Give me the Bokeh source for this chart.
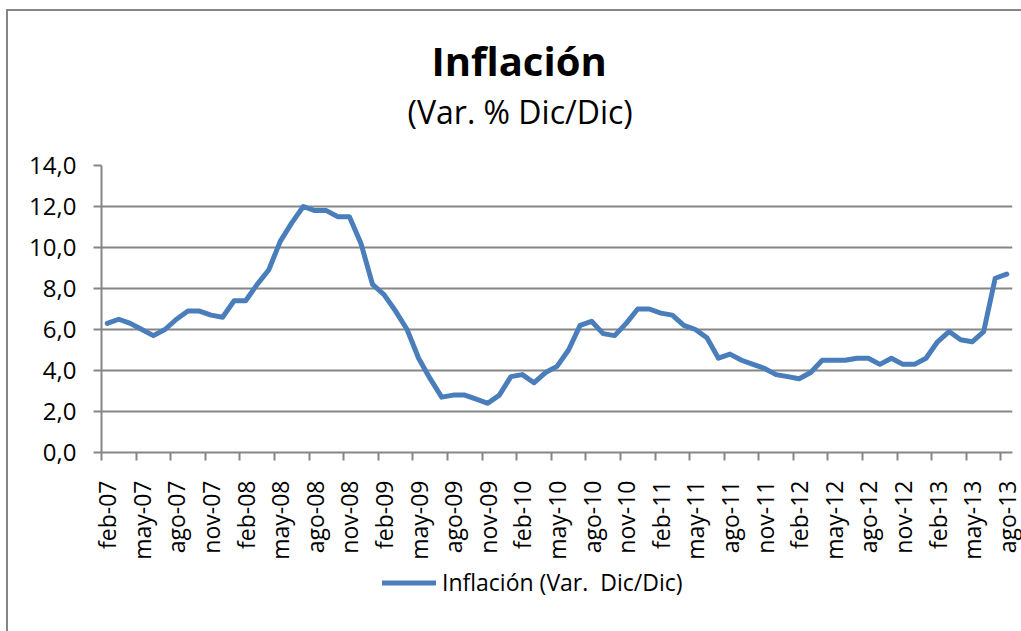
import math
from bokeh.plotting import figure
from bokeh.models import (Range1d, FixedTicker, CustomJSTickFormatter, Title,
                          Legend, LegendItem, ColumnDataSource, InlineStyleSheet,
                          GlobalInlineStyleSheet)
from bokeh.embed import file_html
from bokeh.resources import INLINE

# ---- data -------------------------------------------------------------
month_names = ["ene", "feb", "mar", "abr", "may", "jun",
               "jul", "ago", "sep", "oct", "nov", "dic"]
start_year = 2007
start_month = 2          # feb-07
inflacion = [6.3, 6.5, 6.3, 6.0, 5.7, 6.0, 6.5, 6.9, 6.9, 6.7, 6.6,          # feb-07 .. dic-07
             7.4, 7.4, 8.2, 8.9, 10.3, 11.2, 12.0, 11.8, 11.8, 11.5, 11.5, 10.2,  # 2008
             8.2, 7.7, 6.9, 6.0, 4.6, 3.6, 2.7, 2.8, 2.8, 2.6, 2.4, 2.8,   # 2009
             3.7, 3.8, 3.4, 3.9, 4.2, 5.0, 6.2, 6.4, 5.8, 5.7, 6.3, 7.0,   # 2010
             7.0, 6.8, 6.7, 6.2, 6.0, 5.6, 4.6, 4.8, 4.5, 4.3, 4.1, 3.8,   # 2011
             3.7, 3.6, 3.9, 4.5, 4.5, 4.5, 4.6, 4.6, 4.3, 4.6, 4.3, 4.3,   # 2012
             4.6, 5.4, 5.9, 5.5, 5.4, 5.9, 8.5, 8.7]                       # 2013 .. ago-13
y_ticks = [0, 2, 4, 6, 8, 10, 12, 14]
label_every = 3

labels = []
for k in range(len(inflacion)):
    m = start_month - 1 + k
    labels.append(f"{month_names[m % 12]}-{(start_year + m // 12) % 100:02d}")
idx = list(range(len(inflacion)))

src = ColumnDataSource(dict(x=idx, y=inflacion, lab=labels))

# ---- figure -----------------------------------------------------------
GRAY = "#868686"
BLUE = "#4A7EBB"
FONT = "Open Sans"

border_css = InlineStyleSheet(css=":host { margin-left: 6px; margin-top: 9px; "
                                  "border-left: 2px solid #868686; border-top: 2px solid #868686; }")
page_css = GlobalInlineStyleSheet(css="html, body { overflow: hidden; }")

p = figure(frame_width=911, frame_height=287, output_backend="svg", toolbar_location=None,
           x_range=Range1d(-0.5, len(inflacion) - 0.5), y_range=Range1d(0, 14),
           min_border_left=93, min_border_right=9, min_border_top=154,
           min_border_bottom=179, stylesheets=[border_css, page_css])
p.background_fill_color = "white"
p.border_fill_color = "white"
p.outline_line_color = None

r = p.line("x", "y", source=src, line_color=BLUE, line_width=5,
           line_join="round", line_cap="round")

# titles (spacer first, nearest the plot area, then subtitle, then main title)
spacer = Title(text=" ", text_font_size="2px", standoff=29)
p.add_layout(spacer, "above")
sub = Title(text="(Var. % Dic/Dic)", text_font=FONT, text_font_style="normal",
            text_font_size="32px", align="left", offset=306, standoff=0,
            text_color="black")
p.add_layout(sub, "above")
p.title.text = "Inflación"
p.title.text_font = FONT
p.title.text_font_style = "bold"
p.title.text_font_size = "40px"
p.title.align = "left"
p.title.offset = 330
p.title.standoff = 0
p.title.text_color = "black"

# y axis
p.yaxis.ticker = FixedTicker(ticks=y_ticks)
p.yaxis.formatter = CustomJSTickFormatter(code="return tick.toFixed(1).replace('.', ',');")
p.yaxis.axis_line_color = GRAY
p.yaxis.axis_line_width = 2
p.yaxis.major_tick_line_color = GRAY
p.yaxis.major_tick_line_width = 2
p.yaxis.major_tick_in = 0
p.yaxis.major_tick_out = 8
p.yaxis.minor_tick_line_color = None
p.yaxis.major_label_standoff = 17
p.yaxis.major_label_text_font = FONT
p.yaxis.major_label_text_font_size = "24px"
p.yaxis.major_label_text_color = "black"

# x axis: labels at category centres, tick marks at category boundaries
lab_pos = list(range(0, len(inflacion), label_every))
tick_pos = [i - 0.5 for i in lab_pos]
p.xaxis.ticker = FixedTicker(ticks=lab_pos, minor_ticks=tick_pos)
p.xaxis.major_label_overrides = {i: labels[i] for i in lab_pos}
p.xaxis.major_label_orientation = math.pi / 2
p.xaxis.axis_line_color = GRAY
p.xaxis.axis_line_width = 2
p.xaxis.major_tick_line_color = None
p.xaxis.major_tick_in = 0
p.xaxis.major_tick_out = 0
p.xaxis.minor_tick_line_color = GRAY
p.xaxis.minor_tick_line_width = 2
p.xaxis.minor_tick_in = 0
p.xaxis.minor_tick_out = 8
p.xaxis.major_label_standoff = 20
p.xaxis.major_label_text_font = FONT
p.xaxis.major_label_text_font_size = "23px"
p.xaxis.major_label_text_color = "black"

# grid
p.xgrid.grid_line_color = None
p.ygrid.ticker = FixedTicker(ticks=y_ticks)
p.ygrid.grid_line_color = GRAY
p.ygrid.grid_line_width = 2

# legend: placed in the right-hand panel, offset back under the plot area
leg = Legend(items=[LegendItem(label="Inflación (Var.  Dic/Dic)", renderers=[r])],
             location=(-630, -146), orientation="vertical",
             background_fill_alpha=0, border_line_color=None,
             padding=0, margin=0, spacing=0, glyph_width=54, glyph_height=31,
             label_standoff=6, label_height=31, label_text_font=FONT,
             label_text_font_size="23px", label_text_color="black")
p.add_layout(leg, "right")

open("out.html", "w").write(file_html(p, INLINE))
